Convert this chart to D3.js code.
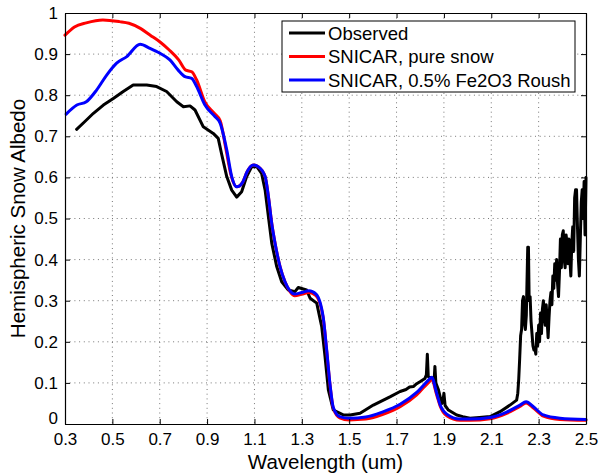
<!DOCTYPE html>
<html lang="en">
<head>
<meta charset="utf-8">
<title>Hemispheric Snow Albedo</title>
<script src="https://d3js.org/d3.v7.min.js"></script>
<style>
    body { margin: 0; background: #fff; }
    text { font-family: "Liberation Sans", Arial, Helvetica, sans-serif; fill: #000; }
    .grid line { stroke: #777; stroke-width: 1; stroke-dasharray: 1,3.7; }
    .series { fill: none; stroke-width: 3; stroke-linejoin: round; stroke-linecap: round; }
</style>
</head>
<body>
<script>
// observed spectrum (wavelength um, albedo)
var obsWave = [0.349,0.384,0.42,0.462,0.504,0.546,0.588,0.645,0.687,0.729,0.772,0.80,0.828,0.849,0.884,0.926,0.947,0.962,0.983,1.004,1.025,1.046,1.067,1.088,1.11,1.13,1.145,1.159,1.173,1.194,1.215,1.243,1.271,1.285,1.32,1.335,1.363,1.384,1.398,1.412,1.433,1.475,1.504,1.546,1.602,1.672,1.715,1.74,1.755,1.771,1.785,1.799,1.82,1.826,1.830,1.834,1.85,1.858,1.862,1.866,1.877,1.891,1.897,1.900,1.905,1.919,1.954,1.98,2.01,2.05,2.095,2.137,2.179,2.200,2.207,2.212,2.216,2.220,2.224,2.228,2.232,2.236,2.240,2.244,2.248,2.251,2.254,2.257,2.260,2.264,2.268,2.272,2.276,2.280,2.284,2.288,2.292,2.296,2.300,2.304,2.308,2.312,2.316,2.320,2.324,2.328,2.332,2.336,2.340,2.344,2.348,2.352,2.356,2.360,2.364,2.368,2.372,2.376,2.380,2.384,2.388,2.392,2.396,2.400,2.404,2.408,2.412,2.416,2.420,2.424,2.428,2.432,2.436,2.440,2.444,2.448,2.452,2.456,2.460,2.464,2.468,2.472,2.476,2.480,2.484,2.488,2.492,2.496,2.500];
var obsAlb = [0.717,0.736,0.756,0.776,0.792,0.809,0.825,0.825,0.821,0.809,0.784,0.772,0.774,0.764,0.723,0.707,0.695,0.655,0.602,0.569,0.552,0.565,0.602,0.626,0.626,0.610,0.569,0.504,0.440,0.383,0.346,0.326,0.322,0.332,0.326,0.306,0.294,0.237,0.164,0.083,0.034,0.022,0.022,0.026,0.046,0.066,0.079,0.084,0.090,0.091,0.098,0.103,0.111,0.120,0.170,0.115,0.112,0.100,0.140,0.100,0.083,0.050,0.060,0.075,0.045,0.034,0.022,0.018,0.014,0.016,0.018,0.030,0.046,0.055,0.058,0.075,0.110,0.160,0.215,0.230,0.300,0.310,0.245,0.230,0.265,0.350,0.430,0.430,0.300,0.310,0.250,0.220,0.190,0.180,0.185,0.170,0.220,0.190,0.240,0.200,0.270,0.220,0.280,0.300,0.260,0.240,0.290,0.250,0.210,0.260,0.300,0.320,0.290,0.360,0.330,0.390,0.350,0.400,0.340,0.310,0.370,0.450,0.380,0.460,0.470,0.400,0.380,0.460,0.440,0.390,0.450,0.400,0.360,0.440,0.480,0.420,0.550,0.570,0.570,0.480,0.400,0.360,0.450,0.540,0.570,0.500,0.590,0.460,0.600];

// SNICAR, pure snow
var pureWave = [0.30,0.34,0.39,0.46,0.53,0.57,0.62,0.66,0.70,0.74,0.78,0.81,0.835,0.856,0.89,0.93,0.955,0.98,1.00,1.025,1.05,1.07,1.095,1.116,1.145,1.159,1.173,1.187,1.208,1.229,1.25,1.27,1.30,1.33,1.36,1.39,1.405,1.419,1.433,1.46,1.50,1.57,1.64,1.715,1.785,1.84,1.848,1.87,1.884,1.912,1.968,2.01,2.095,2.165,2.221,2.247,2.278,2.32,2.39,2.50];
var pureAlb = [0.946,0.966,0.976,0.983,0.979,0.975,0.962,0.946,0.930,0.910,0.886,0.861,0.857,0.837,0.784,0.756,0.738,0.668,0.608,0.577,0.588,0.615,0.630,0.626,0.602,0.553,0.488,0.440,0.383,0.346,0.322,0.312,0.316,0.320,0.312,0.259,0.178,0.095,0.038,0.015,0.010,0.012,0.023,0.042,0.071,0.104,0.108,0.070,0.044,0.020,0.009,0.009,0.013,0.026,0.043,0.051,0.039,0.019,0.011,0.009];

// SNICAR, 0.5% Fe2O3 Roush
var dustWave = [0.305,0.35,0.39,0.434,0.476,0.518,0.561,0.617,0.659,0.701,0.743,0.778,0.807,0.835,0.856,0.891,0.933,0.955,0.983,1.004,1.025,1.05,1.07,1.095,1.116,1.145,1.159,1.173,1.187,1.208,1.229,1.25,1.27,1.30,1.33,1.36,1.39,1.405,1.419,1.433,1.46,1.50,1.57,1.64,1.715,1.785,1.84,1.848,1.87,1.884,1.912,1.968,2.01,2.095,2.165,2.221,2.247,2.278,2.32,2.39,2.50];
var dustAlb = [0.754,0.776,0.784,0.813,0.849,0.878,0.894,0.924,0.914,0.902,0.886,0.861,0.845,0.841,0.821,0.776,0.748,0.732,0.667,0.602,0.577,0.588,0.615,0.630,0.626,0.602,0.553,0.488,0.440,0.383,0.346,0.324,0.316,0.320,0.324,0.316,0.261,0.180,0.097,0.040,0.018,0.014,0.017,0.029,0.048,0.077,0.110,0.114,0.074,0.047,0.024,0.012,0.012,0.016,0.029,0.046,0.054,0.042,0.022,0.014,0.011];

var xTicks = [0.3,0.5,0.7,0.9,1.1,1.3,1.5,1.7,1.9,2.1,2.3,2.5];
var yTicks = [0,0.1,0.2,0.3,0.4,0.5,0.6,0.7,0.8,0.9,1];
var legendNames = ["Observed", "SNICAR, pure snow", "SNICAR, 0.5% Fe2O3 Roush"];
var legendColors = ["#000000", "#ff0000", "#0000ff"];

var W = 601, H = 473;
var margin = { left: 65, top: 13, right: 15, bottom: 49 };
var w = W - margin.left - margin.right;
var h = H - margin.top - margin.bottom;

var svg = d3.select("body").append("svg")
    .attr("width", W)
    .attr("height", H);

var plot = svg.append("g").attr("transform", `translate(${margin.left}, ${margin.top})`);

var x = d3.scaleLinear().domain([0.3, 2.5]).range([0, w]);
var y = d3.scaleLinear().domain([0, 1]).range([h, 0]);

// dotted grid
var grid = plot.append("g").attr("class", "grid");
grid.selectAll("line.gx")
    .data(xTicks.slice(1, -1)).enter()
    .append("line")
    .attr("x1", d => x(d)).attr("x2", d => x(d))
    .attr("y1", 0).attr("y2", h);
grid.selectAll("line.gy")
    .data(yTicks.slice(1, -1)).enter()
    .append("line")
    .attr("class", "gy")
    .attr("x1", 0).attr("x2", w)
    .attr("y1", d => y(d)).attr("y2", d => y(d));

// curves
function pairs(xs, ys) { return xs.map((d, i) => [d, ys[i]]); }
var smooth = d3.line().x(d => x(d[0])).y(d => y(d[1])).curve(d3.curveMonotoneX);
var raw = d3.line().x(d => x(d[0])).y(d => y(d[1]));

plot.append("path").attr("class", "series")
    .attr("d", raw(pairs(obsWave, obsAlb)))
    .attr("stroke", legendColors[0])
    .attr("stroke-width", 3.2);
plot.append("path").attr("class", "series")
    .attr("d", smooth(pairs(pureWave, pureAlb)))
    .attr("stroke", legendColors[1]);
plot.append("path").attr("class", "series")
    .attr("d", smooth(pairs(dustWave, dustAlb)))
    .attr("stroke", legendColors[2]);

// axes, MATLAB style box with inward ticks
var fs = 17;
plot.append("g")
    .attr("transform", `translate(0, ${h})`)
    .call(d3.axisBottom(x).tickValues(xTicks).tickSizeInner(-5).tickSizeOuter(0).tickPadding(9).tickFormat(d3.format(".1f")));
plot.append("g")
    .call(d3.axisTop(x).tickValues(xTicks).tickSizeInner(-5).tickSizeOuter(0).tickFormat(""));
var yAxis = plot.append("g")
    .call(d3.axisLeft(y).tickValues(yTicks).tickSizeInner(-5).tickSizeOuter(0).tickPadding(7).tickFormat(d => d === 0 || d === 1 ? d3.format("d")(d) : d3.format(".1f")(d)));
plot.append("g")
    .attr("transform", `translate(${w}, 0)`)
    .call(d3.axisRight(y).tickValues(yTicks).tickSizeInner(-5).tickSizeOuter(0).tickFormat(""));

plot.selectAll(".domain").attr("stroke", "#000").attr("stroke-width", 1.2);
plot.selectAll(".tick line").attr("stroke", "#000");
plot.selectAll(".tick text")
    .attr("font-size", fs)
    .attr("font-family", "Liberation Sans, Arial, sans-serif");
// lift the zero label clear of the x tick labels
yAxis.selectAll(".tick text").filter(d => d === 0).attr("dy", "-0.05em");

// axis titles
svg.append("text")
    .attr("x", margin.left + w / 2)
    .attr("y", 469)
    .attr("text-anchor", "middle")
    .attr("font-size", 20.5)
    .text("Wavelength (um)");
svg.append("text")
    .attr("transform", `translate(25, ${margin.top + h / 2}) rotate(-90)`)
    .attr("text-anchor", "middle")
    .attr("font-size", 20.5)
    .text("Hemispheric Snow Albedo");

// legend
var legend = svg.append("g").attr("transform", "translate(282, 21)");
legend.append("rect")
    .attr("width", 293).attr("height", 71)
    .attr("fill", "#fff").attr("stroke", "#000").attr("stroke-width", 1);
var rows = legend.selectAll("g.row")
    .data(legendNames).enter()
    .append("g")
    .attr("transform", (d, i) => `translate(0, ${12 + i * 23.5})`);
rows.append("line")
    .attr("x1", 7).attr("x2", 43)
    .attr("stroke", (d, i) => legendColors[i])
    .attr("stroke-width", 3);
rows.append("text")
    .attr("x", 46).attr("y", 6.5)
    .attr("font-size", 18.5)
    .text(d => d);
</script>
</body>
</html>
